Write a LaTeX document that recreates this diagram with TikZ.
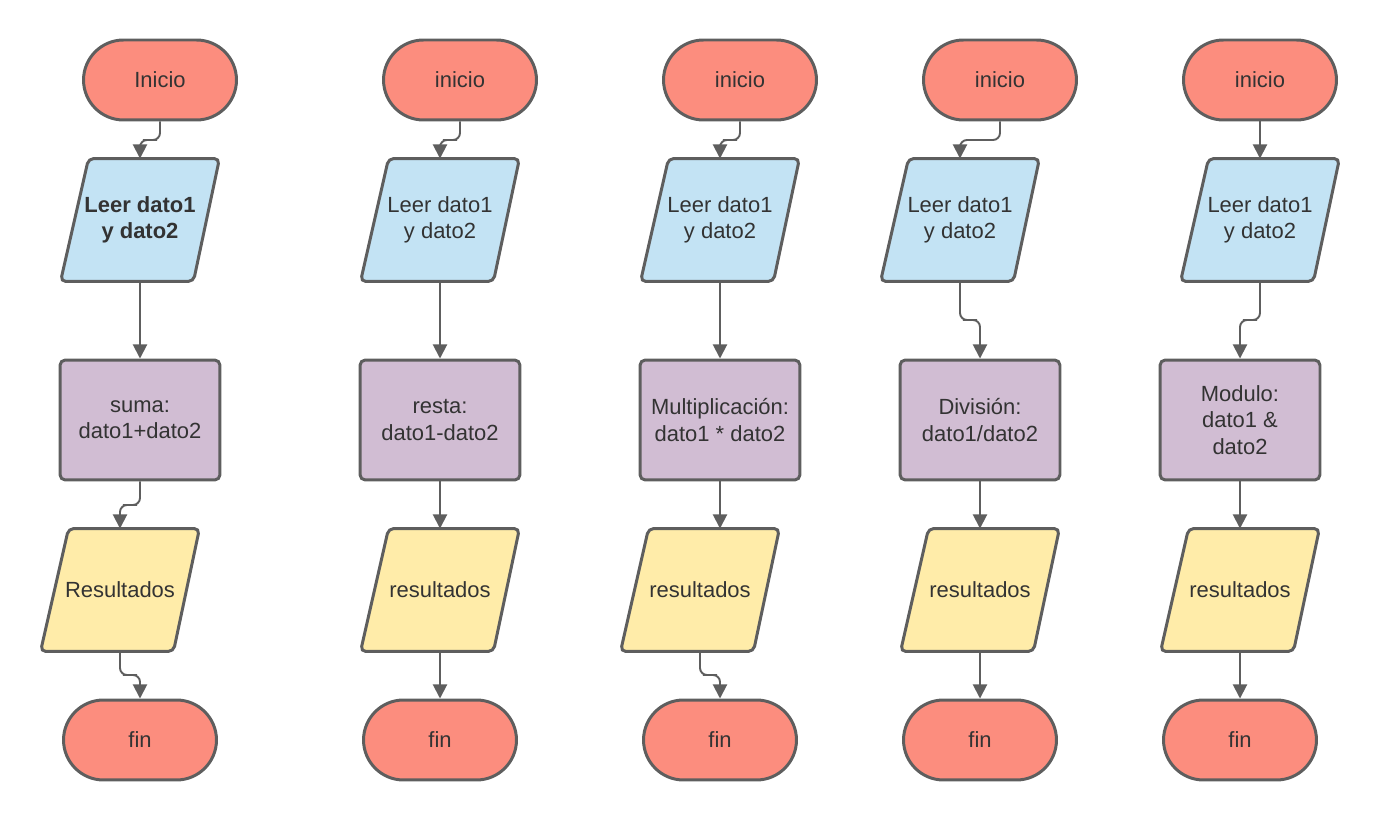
\documentclass[tikz,border=0pt]{standalone}
\usepackage{fontspec}
\setmainfont{Liberation Sans}
\usetikzlibrary{shapes.misc, arrows.meta, calc, backgrounds}

\definecolor{termfill}{HTML}{FC8D7E}
\definecolor{inpfill}{HTML}{C3E3F4}
\definecolor{procfill}{HTML}{D1BDD3}
\definecolor{outfill}{HTML}{FFECA9}
\definecolor{edgegray}{HTML}{5E5E5E}
\definecolor{txtgray}{HTML}{333333}

\tikzset{
    base/.style={draw=edgegray, line width=1.7pt, text=txtgray, align=center,
        font=\fontsize{12.5}{15}\selectfont, inner sep=2pt},
    term/.style={base, rounded rectangle, fill=termfill, minimum width=3.2cm, minimum height=1.6cm},
    iobox/.style={base, rectangle, draw=none, minimum width=3.2cm, minimum height=2.4cm},
    procbox/.style={base, rectangle, rounded corners=3pt, fill=procfill,
        minimum width=3.2cm, minimum height=2.4cm},
    para/.style={draw=edgegray, line width=1.7pt, rounded corners=3pt},
    flow/.style={draw=edgegray, line width=1.1pt, rounded corners=4pt,
        -{Triangle[length=8pt, width=8pt]}}
}

\begin{document}
\begin{tikzpicture}[x=0.02cm, y=-0.02cm]
    \useasboundingbox (0,0) rectangle (1380,820);

    % Suma
    \node[term]    (ini1)  at (160,80)  {Inicio};
    \node[iobox]   (inp1)  at (140,220) {\bfseries Leer dato1\\\bfseries y dato2};
    \node[procbox] (proc1) at (140,420) {suma:\\dato1+dato2};
    \node[iobox]   (out1)  at (120,590) {Resultados};
    \node[term]    (fin1)  at (140,740) {fin};

    % Resta
    \node[term]    (ini2)  at (460,80)  {inicio};
    \node[iobox]   (inp2)  at (440,220) {Leer dato1\\y dato2};
    \node[procbox] (proc2) at (440,420) {resta:\\dato1-dato2};
    \node[iobox]   (out2)  at (440,590) {resultados};
    \node[term]    (fin2)  at (440,740) {fin};

    % Multiplicacion
    \node[term]    (ini3)  at (740,80)  {inicio};
    \node[iobox]   (inp3)  at (720,220) {Leer dato1\\y dato2};
    \node[procbox] (proc3) at (720,420) {Multiplicación:\\dato1 * dato2};
    \node[iobox]   (out3)  at (700,590) {resultados};
    \node[term]    (fin3)  at (720,740) {fin};

    % Division
    \node[term]    (ini4)  at (1000,80)  {inicio};
    \node[iobox]   (inp4)  at (960,220)  {Leer dato1\\y dato2};
    \node[procbox] (proc4) at (980,420)  {División:\\dato1/dato2};
    \node[iobox]   (out4)  at (980,590)  {resultados};
    \node[term]    (fin4)  at (980,740)  {fin};

    % Modulo
    \node[term]    (ini5)  at (1260,80)  {inicio};
    \node[iobox]   (inp5)  at (1260,220) {Leer dato1\\y dato2};
    \node[procbox] (proc5) at (1240,420) {Modulo:\\dato1 \&\\dato2};
    \node[iobox]   (out5)  at (1240,590) {resultados};
    \node[term]    (fin5)  at (1240,740) {fin};

    % Input / output parallelograms
    \begin{scope}[on background layer]
        \foreach \n/\c in {inp1/inpfill, inp2/inpfill, inp3/inpfill, inp4/inpfill, inp5/inpfill,
                           out1/outfill, out2/outfill, out3/outfill, out4/outfill, out5/outfill}
            \draw[para, fill=\c] ($(\n.south west)+(2,0)$) -- ($(\n.north west)+(30,0)$)
                -- ($(\n.north east)+(-2,0)$) -- ($(\n.south east)+(-28,0)$) -- cycle;
    \end{scope}

    % Connectors
    \draw[flow] (ini1.south) |- ($(ini1.south)!0.5!(inp1.north)$) -| (inp1.north);
    \draw[flow] (inp1.south) -- (proc1.north);
    \draw[flow] (proc1.south) |- ($(proc1.south)!0.5!(out1.north)$) -| (out1.north);
    \draw[flow] (out1.south) |- ($(out1.south)!0.5!(fin1.north)$) -| (fin1.north);

    \draw[flow] (ini2.south) |- ($(ini2.south)!0.5!(inp2.north)$) -| (inp2.north);
    \draw[flow] (inp2.south) -- (proc2.north);
    \draw[flow] (proc2.south) -- (out2.north);
    \draw[flow] (out2.south) -- (fin2.north);

    \draw[flow] (ini3.south) |- ($(ini3.south)!0.5!(inp3.north)$) -| (inp3.north);
    \draw[flow] (inp3.south) -- (proc3.north);
    \draw[flow] (proc3.south) -- (proc3.south |- out3.north);
    \draw[flow] (out3.south) |- ($(out3.south)!0.5!(fin3.north)$) -| (fin3.north);

    \draw[flow] (ini4.south) |- ($(ini4.south)!0.5!(inp4.north)$) -| (inp4.north);
    \draw[flow] (inp4.south) |- ($(inp4.south)!0.5!(proc4.north)$) -| (proc4.north);
    \draw[flow] (proc4.south) -- (out4.north);
    \draw[flow] (out4.south) -- (fin4.north);

    \draw[flow] (ini5.south) -- (inp5.north);
    \draw[flow] (inp5.south) |- ($(inp5.south)!0.5!(proc5.north)$) -| (proc5.north);
    \draw[flow] (proc5.south) -- (out5.north);
    \draw[flow] (out5.south) -- (fin5.north);
\end{tikzpicture}
\end{document}
